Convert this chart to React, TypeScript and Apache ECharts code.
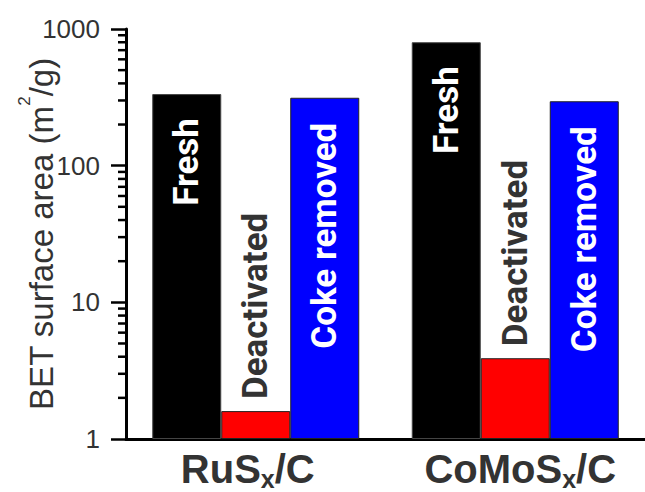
import React, { useEffect, useRef } from "react";
import * as echarts from "echarts";

// ---- data ----
const categories = ["RuSx/C", "CoMoSx/C"];
const seriesNames = ["Fresh", "Deactivated", "Coke removed"];
const freshValues = [334, 800];
const deactivatedValues = [1.6, 3.9];
const cokeRemovedValues = [314, 296];
const yMin = 1;
const yMax = 1000;
const minorTickValues = [
  2, 3, 4, 5, 6, 7, 8, 9,
  20, 30, 40, 50, 60, 70, 80, 90,
  200, 300, 400, 500, 600, 700, 800, 900,
];
const barColors = ["#000000", "#ff0000", "#0000ff"];

const axisFont = "'Liberation Sans', Arial, sans-serif";
const barFont = "Roboto, 'Liberation Sans', sans-serif";

export default function App() {
  const ref = useRef<HTMLDivElement>(null);

  useEffect(() => {
    if (!ref.current) return;
    const chart = echarts.init(ref.current, null, { renderer: "svg" });

    const insideLabel = (distance: number) => ({
      show: true,
      position: "insideTop",
      rotate: 90,
      align: "right",
      verticalAlign: "middle",
      distance,
      color: "#ffffff",
      fontSize: 35,
      fontWeight: "bold",
      fontFamily: barFont,
      formatter: "{a}",
    });

    const mainX = { fontSize: 40, fontWeight: "bold", color: "#333", fontFamily: axisFont, lineHeight: 40, verticalAlign: "top" };

    const option: any = {
      animation: false,
      backgroundColor: "#ffffff",
      grid: { left: 126, right: 0, top: 29, bottom: 53, containLabel: false, outerBoundsMode: "none" },
      xAxis: {
        type: "category",
        data: categories,
        axisTick: { show: false },
        axisLine: { onZero: false, lineStyle: { color: "#000", width: 3 } },
        axisLabel: {
          interval: 0,
          margin: 10,
          formatter: (value: string, index: number) => {
            const parts = value.split("x");
            const first = index === 0 ? "a" : "aL";
            const last = index === 0 ? "aR" : "a";
            return `{${first}|${parts[0]}}{s|x}{${last}|${parts[1]}}`;
          },
          rich: {
            a: { ...mainX },
            aR: { ...mainX, padding: [0, 16, 0, 0] },
            aL: { ...mainX, padding: [0, 0, 0, 10] },
            s: { fontSize: 25, fontWeight: "bold", color: "#333", fontFamily: axisFont, lineHeight: 20, verticalAlign: "top", padding: [17, 0, 0, 0] },
          },
        },
      },
      yAxis: {
        type: "log",
        logBase: 10,
        min: yMin,
        max: yMax,
        position: "left",
        axisLine: { show: true, lineStyle: { color: "#000", width: 3 } },
        axisTick: { show: true, inside: false, length: 15, lineStyle: { color: "#000", width: 2.5 } },
        axisLabel: {
          fontSize: 26,
          color: "#333",
          margin: 26,
          fontFamily: axisFont,
          formatter: (v: number) => String(Math.round(v)),
        },
        splitLine: { show: false },
        name: "{n|BET surface area (m}{sup|2}{n|/g)}",
        nameLocation: "middle",
        nameRotate: 90,
        nameGap: 78,
        nameMoveOverlap: false,
        nameTextStyle: {
          rich: {
            n: { fontSize: 33, color: "#333", fontFamily: axisFont, lineHeight: 33, verticalAlign: "top", padding: [10, 0, 0, 0] },
            sup: { fontSize: 17, color: "#333", fontFamily: axisFont, lineHeight: 12, verticalAlign: "top", padding: [1, 0, 0, 0] },
          },
        },
      },
      series: [
        {
          name: seriesNames[0],
          type: "bar",
          data: freshValues,
          barWidth: 69,
          barGap: "0%",
          itemStyle: { color: barColors[0], borderColor: "#444", borderWidth: 1 },
          label: insideLabel(24),
        },
        {
          name: seriesNames[1],
          type: "bar",
          data: deactivatedValues,
          barWidth: 69,
          barGap: "0%",
          itemStyle: { color: barColors[1], borderColor: "#222", borderWidth: 1 },
          label: {
            show: true,
            position: "top",
            rotate: 90,
            align: "left",
            verticalAlign: "middle",
            distance: 12,
            color: "#333",
            fontSize: 35,
            fontWeight: "bold",
            fontFamily: barFont,
            formatter: "{a}",
          },
        },
        {
          name: seriesNames[2],
          type: "bar",
          data: cokeRemovedValues,
          barWidth: 69,
          barGap: "0%",
          itemStyle: { color: barColors[2], borderColor: "#222", borderWidth: 1 },
          label: insideLabel(25),
        },
        {
          name: "minorTicks",
          type: "custom",
          silent: true,
          clip: false,
          z: 5,
          data: minorTickValues.map((v) => [0, v]),
          renderItem: (params: any, api: any) => {
            const y = api.coord([0, api.value(1)])[1];
            const x0 = params.coordSys.x;
            return {
              type: "line",
              shape: { x1: x0 - 8, y1: y, x2: x0, y2: y },
              style: { stroke: "#000", lineWidth: 2.5 },
            };
          },
        },
      ],
    };

    chart.setOption(option);
    return () => chart.dispose();
  }, []);

  return (
    <div
      ref={ref}
      style={{ position: "fixed", left: 0, top: 0, width: 645, height: 492, background: "#fff" }}
    />
  );
}
